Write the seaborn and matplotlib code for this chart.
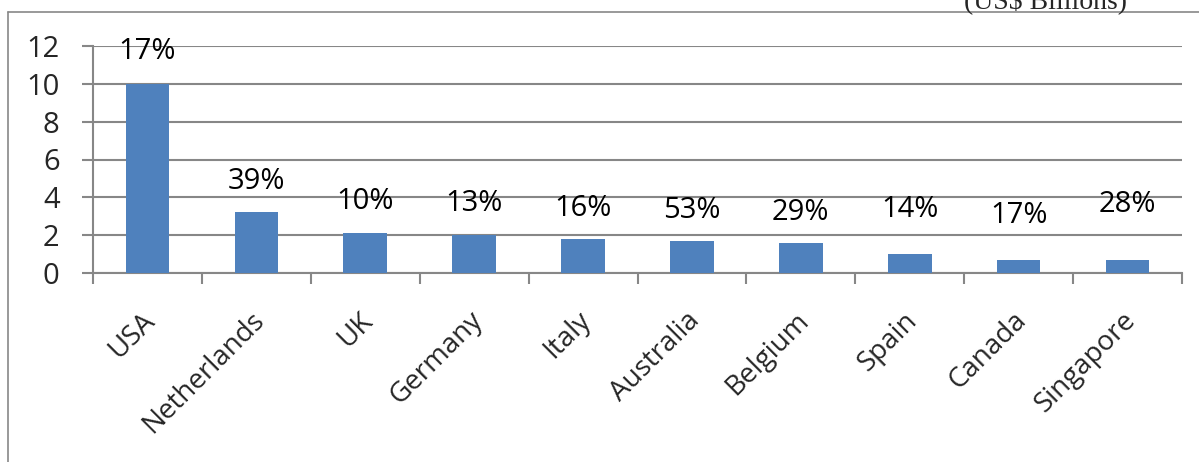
import matplotlib
matplotlib.use("Agg")
import matplotlib.pyplot as plt
from matplotlib.lines import Line2D
from matplotlib.transforms import ScaledTranslation
import seaborn as sns
import pandas as pd

# chart data
countries = ["USA", "Netherlands", "UK", "Germany", "Italy",
             "Australia", "Belgium", "Spain", "Canada", "Singapore"]
values = [10.0, 3.2, 2.1, 2.0, 1.8, 1.7, 1.6, 1.0, 0.7, 0.7]
pct_labels = ["17%", "39%", "10%", "13%", "16%", "53%", "29%", "14%", "17%", "28%"]
y_ticks = [0, 2, 4, 6, 8, 10, 12]

# label offsets above the bar top (points)
label_offsets = [23, 22, 23, 23, 22, 22, 22, 32, 32, 40]

df = pd.DataFrame({"country": countries, "value": values})

sns.set_theme(style="white")
plt.rcParams["font.family"] = ["Open Sans", "DejaVu Sans"]

grey = "#878787"
fig = plt.figure(figsize=(11.99, 4.62), dpi=100)
ax = fig.add_axes([93 / 1199, 1 - 273 / 462, (1182 - 93) / 1199, (273 - 46) / 462])

sns.barplot(data=df, x="country", y="value", color="#4F81BD", width=0.4,
            saturation=1, linewidth=0, ax=ax, zorder=3)

ax.set_ylim(0, 12)
ax.set_xlim(-0.5, len(countries) - 0.5)
ax.set_yticks(y_ticks)
ax.set_yticklabels([str(t) for t in y_ticks], fontsize=21)
ax.yaxis.grid(True, color=grey, linewidth=1.5, zorder=0)
ax.set_axisbelow(True)

# ticks between categories, labels at category centres
ax.set_xticks([i - 0.5 for i in range(len(countries) + 1)])
ax.set_xticklabels([])
ax.set_xticks(range(len(countries)), minor=True)
ax.set_xticklabels(countries, minor=True, rotation=45, ha="right",
                   rotation_mode="anchor", fontsize=20)
ax.tick_params(axis="x", which="major", direction="out", length=8,
               width=1.5, color=grey, bottom=True)
ax.tick_params(axis="x", which="minor", length=0, pad=24)
ax.tick_params(axis="y", direction="out", length=8, width=1.5, color=grey,
               left=True, pad=16)
shift = ScaledTranslation(-6 / 100, 0, fig.dpi_scale_trans)
for lbl in ax.get_xticklabels(minor=True):
    lbl.set_transform(lbl.get_transform() + shift)
ax.set_xlabel("")
ax.set_ylabel("")

for s in ["top", "right"]:
    ax.spines[s].set_visible(False)
for s in ["left", "bottom"]:
    ax.spines[s].set_color(grey)
    ax.spines[s].set_linewidth(1.5)

for i, (v, lab) in enumerate(zip(values, pct_labels)):
    ax.annotate(lab, (i, v), xytext=(0, label_offsets[i]), textcoords="offset points",
                ha="center", va="center", fontsize=21, color="black")

# outer frame
fig.add_artist(Line2D([8 / 1199, 8 / 1199], [0, 1 - 12 / 462], color=grey, lw=1.2))
fig.add_artist(Line2D([8 / 1199, 1], [1 - 12 / 462, 1 - 12 / 462], color=grey, lw=1.2))

fig.text(1045 / 1199, 1 - 8 / 462, "(US$ Billions)", ha="center", va="baseline",
         fontsize=20, family="Liberation Serif")

fig.savefig("out.png", dpi=100)
